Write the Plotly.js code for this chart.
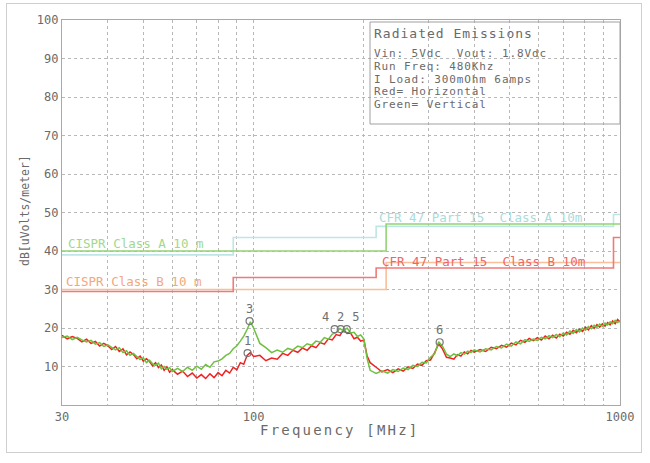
<!DOCTYPE html>
<html>
<head>
<meta charset="utf-8">
<script src="https://cdn.plot.ly/plotly-3.0.1.min.js"></script>
<style>
html,body{margin:0;padding:0;background:#fff;}
#wrap{position:relative;width:650px;height:463px;}
#chart{position:absolute;left:0;top:0;width:650px;height:463px;}
#frame{position:absolute;left:6px;top:3px;width:634px;height:448px;border:1px solid #cfcfcf;pointer-events:none;}
</style>
</head>
<body>
<div id="wrap"><div id="chart"></div><div id="frame"></div></div>
<script>
// Sweep frequencies (MHz)
const freqMHz = [30,31,32,33,34,35,36,37,38,39,40,41,42,43,44,45,46,47,48,49,50,51,52,53,54,55,56,57,58,59,60,
  62,64,66,68,70,72,74,76,78,80,82,84,86,88,90,92,94,96,98,100,
  104,108,112,116,120,124,128,132,136,140,144,148,152,156,160,164,168,172,176,180,184,188,192,196,200,
  204,
  208,216,224,232,240,248,256,264,272,280,288,296,304,312,320,328,336,344,352,360,368,376,384,392,400,
  415,430,445,460,475,490,505,520,535,550,565,580,595,610,625,640,655,670,685,700,715,730,745,760,775,790,805,820,835,850,865,880,895,910,925,940,955,970,985,1000];

// Red = Horizontal (dBuV/m)
const horizontal = [18.1,17.2,17.8,17.3,16.4,17.1,16.0,16.5,15.3,16.0,15.4,14.4,15.2,13.9,14.6,13.0,13.8,13.1,12.0,12.7,11.4,12.0,11.3,10.2,11.0,9.7,10.4,9.0,9.9,8.5,9.2,
  8.0,8.8,7.4,8.3,7.0,7.9,6.9,8.1,7.1,8.4,7.6,9.0,8.3,9.8,9.1,11.0,10.6,12.9,13.6,12.6,
  12.9,11.5,12.2,11.9,13.4,12.9,14.2,13.7,14.8,14.2,15.4,14.9,16.2,15.8,17.2,16.9,18.3,18.0,19.6,18.6,18.7,17.2,17.6,16.6,16.9,
  12.8,
  11.0,9.8,8.6,9.2,8.4,9.4,8.8,9.9,9.5,10.6,10.3,11.5,11.7,13.6,15.9,14.5,12.4,12.2,11.9,13.1,12.7,13.8,13.3,14.2,13.7,
  14.4,13.9,15.0,14.6,15.5,15.0,16.1,15.6,16.8,16.3,17.3,16.7,17.5,16.9,17.9,17.2,18.1,17.4,18.4,17.9,18.9,18.4,19.4,18.8,19.7,19.1,20.2,19.5,20.6,19.9,20.9,20.2,21.1,20.5,21.4,20.8,21.8,21.1,22.2,21.6];

// Green = Vertical (dBuV/m)
const vertical = [17.5,17.9,17.0,17.6,16.9,16.4,16.8,15.8,16.2,15.2,15.6,14.9,14.3,14.9,13.6,14.1,12.9,13.4,12.6,11.8,12.3,11.0,11.6,10.7,10.3,10.9,9.4,10.0,9.3,9.7,8.7,
  9.5,8.7,9.8,9.0,10.1,9.3,10.5,9.8,11.2,11.4,12.0,12.9,13.4,14.6,15.4,16.6,17.9,19.6,21.6,20.0,
  16.0,14.9,13.6,14.3,13.7,14.7,14.3,15.3,14.9,15.9,15.5,16.6,16.3,17.5,17.1,18.4,18.8,19.9,19.2,20.0,18.7,18.9,17.8,18.2,17.1,
  12.2,
  9.0,8.2,8.9,8.3,9.2,8.7,9.6,9.2,10.3,10.0,11.1,10.9,12.4,13.3,16.4,15.2,13.2,12.6,13.3,12.8,13.6,13.2,14.0,13.6,14.3,
  13.8,14.6,14.3,15.2,14.8,15.8,15.3,16.4,15.9,17.0,16.5,17.1,16.8,17.6,17.2,18.0,17.5,18.3,17.7,18.7,18.2,19.2,18.6,19.6,19.0,20.0,19.4,20.4,19.8,20.7,20.2,21.0,20.4,21.3,20.8,21.6,21.1,22.0,21.4,21.9];

// Limit lines (step start frequencies, MHz / dBuV/m)
const cisprA_f = [30,230,1000], cisprA_db = [40,47,47];
const fccA_f = [30,88,216,960,1000], fccA_db = [39,43.5,46.4,49.5,49.5];
const cisprB_f = [30,230,1000], cisprB_db = [30,37,37];
const fccB_f = [30,88,216,960,1000], fccB_db = [29.5,33.1,35.6,43.5,43.5];

// Peak markers
const markerLabels = ['1','3','4','2','5','6'];
const markerF = [96.3,97.5,166.4,172.9,179.6,322];
const markerDb = [13.5,21.8,19.7,19.7,19.7,16.3];
const markerTextPos = ['top center','top center','top left','top center','top right','top center'];

const yTicks = [10,20,30,40,50,60,70,80,90,100];
const xTicks = [30,100,1000];
const xTickText = ['30','100','1000'];
const xMinor = [40,50,60,70,80,90,200,300,400,500,600,700,800,900];

const infoTitle = 'Radiated Emissions';
const infoLines = ['Vin: 5Vdc  Vout: 1.8Vdc','Run Freq: 480Khz','I Load: 300mOhm 6amps','Red= Horizontal','Green= Vertical'];

const FONT = 'DejaVu Sans Mono, monospace';
const TXT = '#6a6a6a';
const GRID = '#b8b8b8';
const sp = (t,ls) => '<span style="letter-spacing:'+ls+'px">'+t+'</span>';

const lim = (x,y,c) => ({x:x,y:y,type:'scatter',mode:'lines',line:{shape:'hv',color:c,width:1.6},hoverinfo:'skip',showlegend:false});
const traces = [
  lim(fccA_f,fccA_db,'#bfe6e6'),
  lim(cisprA_f,cisprA_db,'#95d276'),
  lim(cisprB_f,cisprB_db,'#f9bf98'),
  lim(fccB_f,fccB_db,'#f07a7a'),
  {x:freqMHz,y:horizontal,type:'scatter',mode:'lines',line:{color:'#f22020',width:1.5},showlegend:false},
  {x:freqMHz,y:vertical,type:'scatter',mode:'lines',line:{color:'#6cc23e',width:1.5},showlegend:false},
  {x:markerF,y:markerDb,type:'scatter',mode:'markers+text',text:markerLabels,textposition:markerTextPos,
   textfont:{family:FONT,size:12,color:'#707070'},
   marker:{symbol:'circle-open',size:7,color:'#777',line:{width:1.2}},showlegend:false}
];

const ann = [];
const px = v => (v-62)/558, py = v => (405-v)/385;
ann.push({xref:'paper',yref:'paper',x:px(372),y:py(33),xanchor:'left',yanchor:'middle',showarrow:false,text:sp(infoTitle,1),font:{family:FONT,size:13,color:TXT}});
const lineY = [53,66,79,92,105];
infoLines.forEach((t,i)=>ann.push({xref:'paper',yref:'paper',x:px(372),y:py(lineY[i]),xanchor:'left',yanchor:'middle',showarrow:false,text:sp(t,0.9),font:{family:FONT,size:11,color:TXT}}));
ann.push({xref:'paper',yref:'paper',x:px(66),y:py(243),xanchor:'left',yanchor:'middle',showarrow:false,text:'CISPR Class A 10 m',font:{family:FONT,size:12.5,color:'#a2d88c'}});
ann.push({xref:'paper',yref:'paper',x:px(64),y:py(281),xanchor:'left',yanchor:'middle',showarrow:false,text:'CISPR Class B 10 m',font:{family:FONT,size:12.5,color:'#f4a77a'}});
ann.push({xref:'paper',yref:'paper',x:px(377),y:py(217),xanchor:'left',yanchor:'middle',showarrow:false,text:'CFR 47 Part 15  Class A 10m',font:{family:FONT,size:12.5,color:'#a9dcdc'}});
ann.push({xref:'paper',yref:'paper',x:px(380),y:py(261),xanchor:'left',yanchor:'middle',showarrow:false,text:'CFR 47 Part 15  Class B 10m',font:{family:FONT,size:12.5,color:'#ee6666'}});
ann.push({xref:'paper',yref:'paper',x:px(25),y:py(211),xanchor:'center',yanchor:'middle',textangle:-90,showarrow:false,text:'dB[uVolts/meter]',font:{family:FONT,size:11.5,color:TXT}});
ann.push({xref:'paper',yref:'paper',x:px(258),y:py(430),xanchor:'left',yanchor:'middle',showarrow:false,text:sp('Frequency [MHz]',2.2),font:{family:FONT,size:14,color:TXT}});

const layout = {
  width:650,height:463,
  margin:{l:62,r:30,t:20,b:58},
  paper_bgcolor:'#fff',plot_bgcolor:'#fff',
  font:{family:FONT,color:TXT,size:12},
  showlegend:false,
  xaxis:{type:'log',range:[Math.log10(30),3],tickvals:xTicks,ticktext:xTickText,ticks:'',
    showgrid:true,gridcolor:GRID,griddash:'dot',gridwidth:1,
    minor:{tickvals:xMinor,showgrid:true,gridcolor:GRID,griddash:'dot',gridwidth:1,ticks:''},
    showline:true,mirror:true,linecolor:'#a8a8a8',linewidth:1.2,zeroline:false,
    tickfont:{family:FONT,size:12,color:TXT}},
  yaxis:{range:[0,100],tickvals:yTicks,ticks:'',showgrid:true,gridcolor:GRID,griddash:'dot',gridwidth:1,
    showline:true,mirror:true,linecolor:'#a8a8a8',linewidth:1.2,zeroline:false,
    tickfont:{family:FONT,size:12,color:TXT}},
  shapes:[{type:'rect',xref:'paper',yref:'paper',x0:px(370),x1:1,y0:py(124),y1:py(22),line:{color:'#a0a0a0',width:1},fillcolor:'rgba(255,255,255,0)'}],
  annotations:ann
};
Plotly.newPlot('chart',traces,layout,{staticPlot:true,displayModeBar:false});
</script>
</body>
</html>
